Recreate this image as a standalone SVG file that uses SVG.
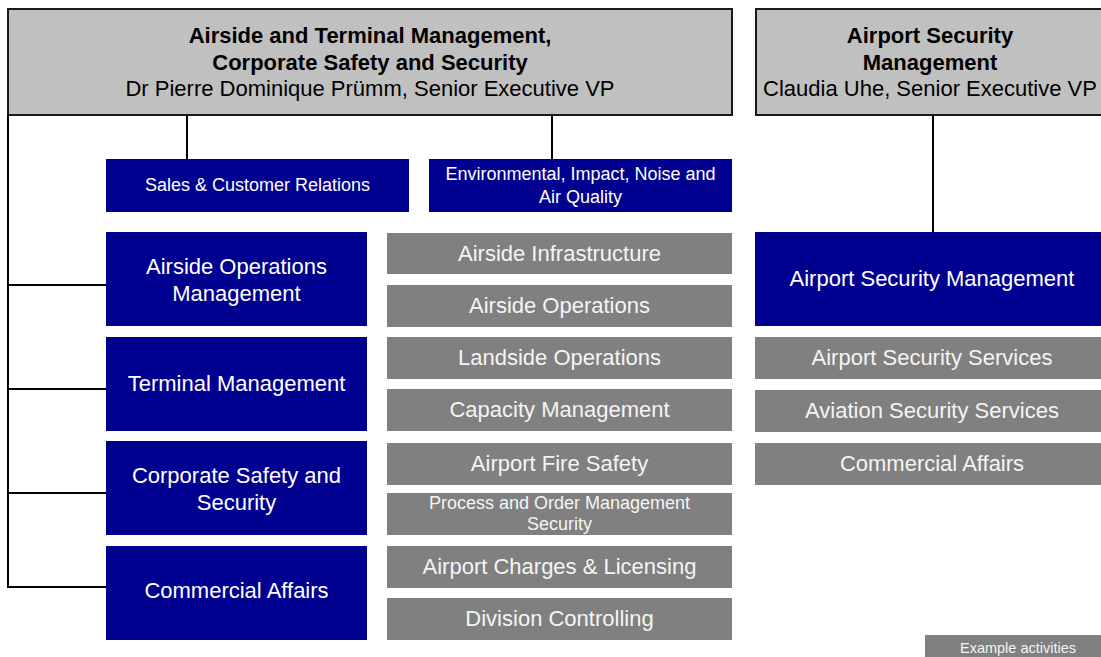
<svg xmlns="http://www.w3.org/2000/svg" width="1101" height="657" viewBox="0 0 1101 657">
<style>
text{font-family:"Liberation Sans",Arial,sans-serif;text-anchor:middle}
.hdr{fill:#c0c0c0;stroke:#1a1a1a;stroke-width:2}
.ht{font-size:22px;fill:#000}
.hb{font-weight:bold}
.blue{fill:#000090}
.gray{fill:#808080}
.wt{fill:#fff;font-size:22px}
.ws{fill:#fff;font-size:18px}
.gt{fill:#f4f4f4;font-size:22px}
.gs{fill:#f4f4f4;font-size:18px}
.ln{stroke:#000;stroke-width:2;fill:none}
</style>
<rect width="1101" height="657" fill="#fff"/>
<g id="connectors">
<path class="ln" d="M8 116 V587 H106"/>
<path class="ln" d="M8 285 H106 M8 389 H106 M8 493 H106"/>
<path class="ln" d="M187 116 V159"/>
<path class="ln" d="M552 116 V159"/>
<path class="ln" d="M933 116 V232"/>
</g>
<g id="head-main">
<rect class="hdr" x="8" y="9" width="724" height="106"/>
<text class="ht hb" x="370" y="43">Airside and Terminal Management,</text>
<text class="ht hb" x="370" y="70">Corporate Safety and Security</text>
<text class="ht" x="370" y="96">Dr Pierre Dominique Prümm, Senior Executive VP</text>
</g>
<g id="head-security">
<rect class="hdr" x="756" y="9" width="360" height="106"/>
<text class="ht hb" x="930" y="43">Airport Security</text>
<text class="ht hb" x="930" y="70">Management</text>
<text class="ht" x="930" y="96">Claudia Uhe, Senior Executive VP</text>
</g>
<g id="sales">
<rect class="blue" x="106" y="159" width="303" height="53"/>
<text class="ws" x="257.5" y="191">Sales &amp; Customer Relations</text>
</g>
<g id="environment">
<rect class="blue" x="429" y="159" width="303" height="53"/>
<text class="ws" x="580.5" y="180">Environmental, Impact, Noise and</text>
<text class="ws" x="580.5" y="203">Air Quality</text>
</g>
<g id="airside-ops-mgmt">
<rect class="blue" x="106" y="232" width="261" height="94"/>
<text class="wt" x="236.5" y="274">Airside Operations</text>
<text class="wt" x="236.5" y="301">Management</text>
</g>
<g id="terminal-mgmt">
<rect class="blue" x="106" y="337" width="261" height="94"/>
<text class="wt" x="236.5" y="391">Terminal Management</text>
</g>
<g id="corp-safety">
<rect class="blue" x="106" y="441" width="261" height="94"/>
<text class="wt" x="236.5" y="483">Corporate Safety and</text>
<text class="wt" x="236.5" y="510">Security</text>
</g>
<g id="commercial">
<rect class="blue" x="106" y="546" width="261" height="94"/>
<text class="wt" x="236.5" y="598">Commercial Affairs</text>
</g>
<g id="airside-infra">
<rect class="gray" x="387" y="233" width="345" height="41"/>
<text class="gt" x="559.5" y="261">Airside Infrastructure</text>
</g>
<g id="airside-operations">
<rect class="gray" x="387" y="285" width="345" height="42"/>
<text class="gt" x="559.5" y="313">Airside Operations</text>
</g>
<g id="landside">
<rect class="gray" x="387" y="337" width="345" height="42"/>
<text class="gt" x="559.5" y="365">Landside Operations</text>
</g>
<g id="capacity">
<rect class="gray" x="387" y="389" width="345" height="42"/>
<text class="gt" x="559.5" y="417">Capacity Management</text>
</g>
<g id="fire-safety">
<rect class="gray" x="387" y="443" width="345" height="42"/>
<text class="gt" x="559.5" y="471">Airport Fire Safety</text>
</g>
<g id="process-order">
<rect class="gray" x="387" y="493" width="345" height="42"/>
<text class="gs" x="559.5" y="509">Process and Order Management</text>
<text class="gs" x="559.5" y="530">Security</text>
</g>
<g id="charges">
<rect class="gray" x="387" y="546" width="345" height="42"/>
<text class="gt" x="559.5" y="574">Airport Charges &amp; Licensing</text>
</g>
<g id="controlling">
<rect class="gray" x="387" y="598" width="345" height="42"/>
<text class="gt" x="559.5" y="626">Division Controlling</text>
</g>
<g id="asm">
<rect class="blue" x="755" y="232" width="360" height="94"/>
<text class="wt" x="932" y="286">Airport Security Management</text>
</g>
<g id="ass">
<rect class="gray" x="755" y="337" width="360" height="42"/>
<text class="gt" x="932" y="365">Airport Security Services</text>
</g>
<g id="avss">
<rect class="gray" x="755" y="390" width="360" height="42"/>
<text class="gt" x="932" y="418">Aviation Security Services</text>
</g>
<g id="sec-commercial">
<rect class="gray" x="755" y="443" width="360" height="42"/>
<text class="gt" x="932" y="471">Commercial Affairs</text>
</g>
<g id="legend">
<rect class="gray" x="925" y="635" width="180" height="25"/>
<text x="1018" y="652.5" style="fill:#f4f4f4;font-size:14.5px">Example activities</text>
</g>
</svg>
